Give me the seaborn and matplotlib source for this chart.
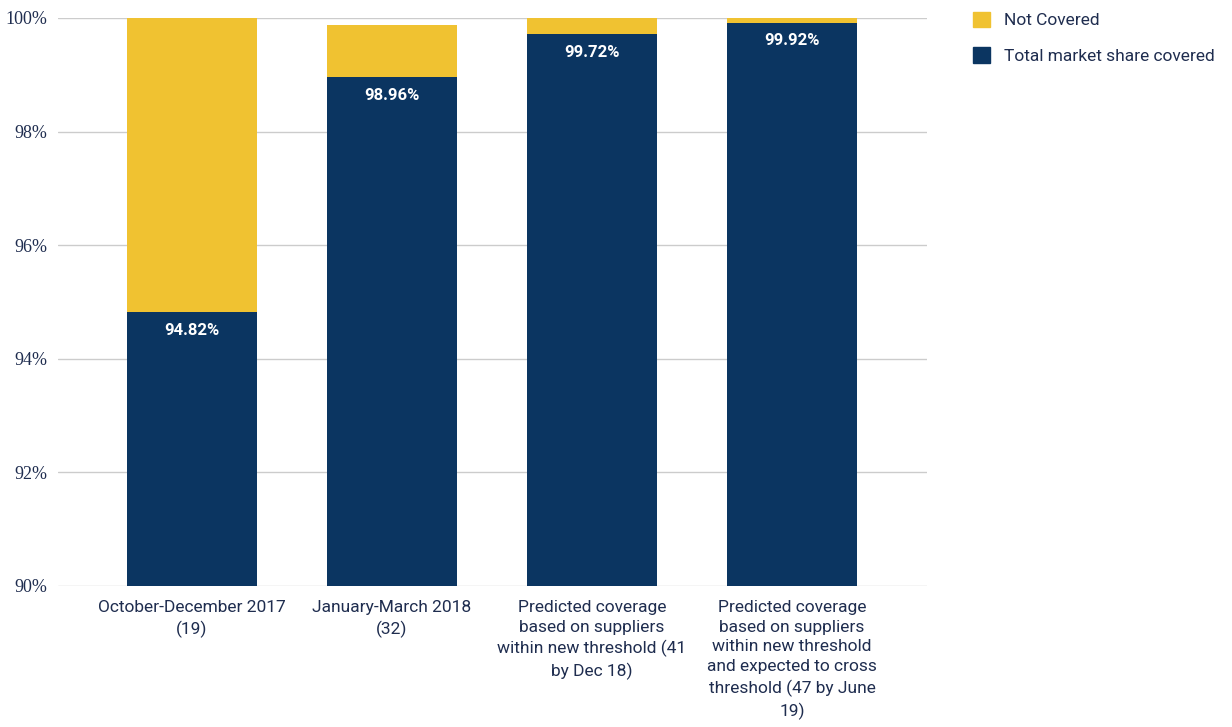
import pandas as pd
import matplotlib.pyplot as plt
import seaborn as sns
from matplotlib.patches import Patch

# Dados
periodos = [
    "October-December 2017\n(19)",
    "January-March 2018\n(32)",
    "Predicted coverage\nbased on suppliers\nwithin new threshold (41\nby Dec 18)",
    "Predicted coverage\nbased on suppliers\nwithin new threshold\nand expected to cross\nthreshold (47 by June\n19)",
]
coberto = [94.82, 98.96, 99.72, 99.92]
nao_coberto = [5.18, 0.92, 0.28, 0.08]

cor_azul = '#0b3561'
cor_amarelo = '#f0c231'
cor_texto = '#1f2d4f'

df = pd.DataFrame({'periodo': periodos, 'coberto': coberto, 'nao_coberto': nao_coberto})
df['total'] = df['coberto'] + df['nao_coberto']

sns.set_theme(style='white')
plt.rcParams['font.family'] = ['Roboto', 'DejaVu Sans']

fig = plt.figure(figsize=(12.32, 7.27), dpi=100)
ax = fig.add_axes([58 / 1232, 1 - 586 / 727, 869 / 1232, 568 / 727])

sns.barplot(data=df, x='periodo', y='total', color=cor_amarelo, width=0.65,
            saturation=1, linewidth=0, ax=ax, zorder=3)
sns.barplot(data=df, x='periodo', y='coberto', color=cor_azul, width=0.65,
            saturation=1, linewidth=0, ax=ax, zorder=3)

for i, v in enumerate(df['coberto']):
    ax.text(i, v - 0.19, f"{v:.2f}%", ha='center', va='top', color='white',
            fontsize=12, fontweight='bold')

ax.set_ylim(90, 100)
ax.set_xlim(-0.67, 3.675)
ax.set_yticks([90, 92, 94, 96, 98, 100])
ax.set_yticklabels([f"{t}%" for t in [90, 92, 94, 96, 98, 100]],
                   family='Liberation Serif', fontsize=13, color=cor_texto)
ax.tick_params(axis='y', length=0, pad=8)
ax.tick_params(axis='x', length=0, pad=10)
for lbl in ax.get_xticklabels():
    lbl.set_fontsize(12.5)
    lbl.set_color(cor_texto)
    lbl.set_linespacing(1.4)
    lbl.set_va('top')
ax.grid(axis='y', color='#cccccc', linewidth=1, zorder=0)
ax.set_xlabel('')
ax.set_ylabel('')
sns.despine(ax=ax, left=True, bottom=True)

handles = [Patch(color=cor_amarelo, label='Not Covered'),
           Patch(color=cor_azul, label='Total market share covered')]
fig.legend(handles=handles, loc='upper left', bbox_to_anchor=(957 / 1232, 1 + 4 / 727),
           frameon=False, fontsize=12.5, handlelength=1, handleheight=1,
           handletextpad=0.8, labelspacing=1.1, labelcolor=cor_texto)

plt.savefig('out.png', dpi=100, facecolor='white')
plt.close()
